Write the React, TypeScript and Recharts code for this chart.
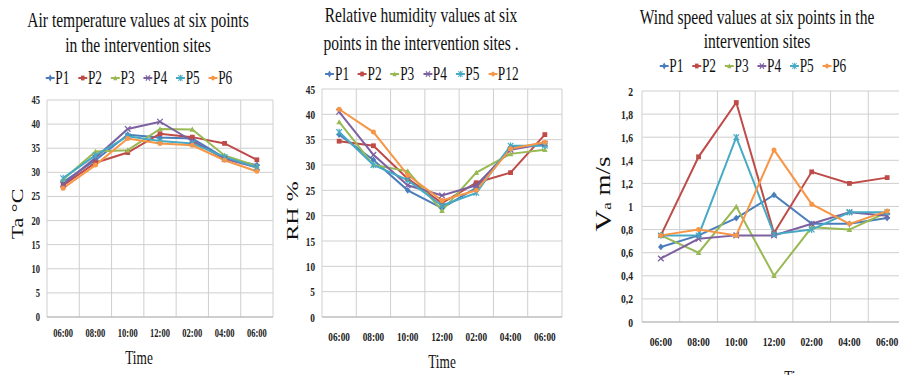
import React from 'react';
import { LineChart, Line, XAxis, YAxis, CartesianGrid, Legend } from 'recharts';

const times = ['06:00', '08:00', '10:00', '12:00', '02:00', '04:00', '06:00'];

// air temperature (°C)
const taP1 = [28, 32.5, 37.8, 37.2, 37, 33, 31.5];
const taP2 = [27.3, 32, 34.1, 38, 37.3, 36, 32.6];
const taP3 = [28.5, 34.3, 34.6, 39, 38.9, 33.5, 31.3];
const taP4 = [27.5, 33, 39, 40.5, 36.5, 32.8, 31];
const taP5 = [28.8, 33.5, 37.5, 36.5, 36, 33.2, 31];
const taP6 = [26.7, 31.5, 37, 36, 35.6, 32.5, 30.2];

// relative humidity (%)
const rhP1 = [36, 31, 25, 21.5, 25.5, 33.5, 34];
const rhP2 = [34.7, 33.8, 27.3, 22.5, 26.5, 28.5, 36];
const rhP3 = [38.5, 30, 28.8, 21, 28.5, 32.2, 33];
const rhP4 = [40.5, 32, 26, 24, 26, 33, 34.2];
const rhP5 = [36.5, 30, 27, 22, 24.5, 33.8, 33.8];
const rhP12 = [41, 36.5, 28, 23, 25, 33.2, 34.5];

// wind speed (m/s)
const wsP1 = [0.65, 0.75, 0.9, 1.1, 0.85, 0.85, 0.9];
const wsP2 = [0.75, 1.43, 1.9, 0.77, 1.3, 1.2, 1.25];
const wsP3 = [0.75, 0.6, 1.0, 0.4, 0.82, 0.8, 0.95];
const wsP4 = [0.55, 0.72, 0.75, 0.75, 0.85, 0.95, 0.92];
const wsP5 = [0.75, 0.75, 1.6, 0.76, 0.8, 0.95, 0.95];
const wsP6 = [0.75, 0.8, 0.75, 1.49, 1.02, 0.85, 0.96];

const namesA = ['P1', 'P2', 'P3', 'P4', 'P5', 'P6'];
const namesB = ['P1', 'P2', 'P3', 'P4', 'P5', 'P12'];

const tenTicks = [0, 5, 10, 15, 20, 25, 30, 35, 40, 45];
const windTicks = [0, 0.2, 0.4, 0.6, 0.8, 1, 1.2, 1.4, 1.6, 1.8, 2];

const colors = ['#4A7EBB', '#BE4B48', '#98B954', '#7D60A0', '#46AAC5', '#F79646'];
const shapes = ['diamond', 'square', 'triangle', 'x', 'star', 'circle'];

const serif = '"Liberation Serif", "Times New Roman", serif';
const SQUEEZE = 0.74;
const GRID = '#cfcfcf';

function makeRows(series: number[][]) {
  return times.map((time, i) => {
    const row: any = { time };
    series.forEach((s, k) => { row['s' + k] = s[i]; });
    return row;
  });
}

function Marker({ shape, x, y, color }: any) {
  const s = 2.8;
  switch (shape) {
    case 'diamond':
      return <polygon points={`${x},${y - s - 0.6} ${x + s},${y} ${x},${y + s + 0.6} ${x - s},${y}`} fill={color} />;
    case 'square':
      return <rect x={x - s + 0.4} y={y - s + 0.4} width={2 * s - 0.8} height={2 * s - 0.8} fill={color} />;
    case 'triangle':
      return <polygon points={`${x},${y - s} ${x + s},${y + s - 0.5} ${x - s},${y + s - 0.5}`} fill={color} />;
    case 'x':
      return (
        <g stroke={color} strokeWidth={1.3}>
          <line x1={x - s} y1={y - s} x2={x + s} y2={y + s} />
          <line x1={x - s} y1={y + s} x2={x + s} y2={y - s} />
        </g>
      );
    case 'star':
      return (
        <g stroke={color} strokeWidth={1.2}>
          <line x1={x - s} y1={y - s} x2={x + s} y2={y + s} />
          <line x1={x - s} y1={y + s} x2={x + s} y2={y - s} />
          <line x1={x} y1={y - s - 0.5} x2={x} y2={y + s + 0.5} />
        </g>
      );
    default:
      return <circle cx={x} cy={y} r={s - 0.3} fill={color} />;
  }
}

// legend drawn in series order (recharts would sort P12 before P2)
const legendFor = (names: string[]) => () => (
  <div style={{
    display: 'flex', justifyContent: 'center', transform: `scaleX(${SQUEEZE})`,
    fontFamily: serif, fontSize: 18, lineHeight: '20px', whiteSpace: 'nowrap', color: '#111',
  }}>
    {names.map((name, i) => (
      <span key={name} style={{ display: 'inline-flex', alignItems: 'center', marginRight: i < names.length - 1 ? 12 : 0 }}>
        <svg width={12} height={10} style={{ overflow: 'visible' }}>
          <line x1={0} y1={5} x2={12} y2={5} stroke={colors[i]} strokeWidth={2} />
          <Marker shape={shapes[i]} x={6} y={5} color={colors[i]} />
        </svg>
        <span style={{ marginLeft: 1 }}>{name}</span>
      </span>
    ))}
  </div>
);

function Panel(p: any) {
  const padX = (p.width - p.yWidth - p.right) / times.length / 2;
  const yTick = ({ x, y, payload }: any) => (
    <text transform={`translate(${x - p.tickGap},${y}) scale(${SQUEEZE},1)`} textAnchor="end" dominantBaseline="central"
      fontFamily={serif} fontWeight="bold" fontSize={p.tickSize} fill="#222">
      {p.yFormat ? p.yFormat(payload.value) : payload.value}
    </text>
  );
  const xTick = ({ x, y, payload }: any) => (
    <text transform={`translate(${x},${y + p.xTickDy}) scale(${SQUEEZE},1)`} textAnchor="middle"
      fontFamily={serif} fontWeight="bold" fontSize={p.tickSize} fill="#222">
      {payload.value}
    </text>
  );
  const timeLabel = (lp: any) => {
    const vb = lp.viewBox || {};
    return (
      <text transform={`translate(${vb.x + vb.width / 2 + p.timeDx},${vb.y + p.timeDy}) scale(${SQUEEZE},1)`}
        textAnchor="middle" fontFamily={serif} fontSize={18} fill="#111">Time</text>
    );
  };
  const yLabel = (lp: any) => {
    const vb = lp.viewBox || {};
    const cy = vb.y + vb.height / 2 + p.yLabelDy;
    return (
      <text transform={`translate(${p.yLabelX},${cy}) rotate(-90) scale(1,${SQUEEZE})`} textAnchor="middle"
        dominantBaseline="central" fontFamily={serif} fontSize={p.yLabelSize} fill="#111">
        {p.yLabel}
      </text>
    );
  };
  const gridX = ({ offset }: any) =>
    times.map((_, i) => offset.left + (i * offset.width) / times.length).concat(offset.left + offset.width);

  return (
    <div style={{ position: 'absolute', left: p.left, top: 0, width: p.width, height: 375 }}>
      <LineChart width={p.width} height={375} data={p.data}
        margin={{ top: p.top, right: p.right, bottom: 0, left: 0 }}>
        <CartesianGrid stroke={GRID} verticalCoordinatesGenerator={gridX} />
        <XAxis dataKey="time" interval={0} tickLine={false} tickSize={0} tickMargin={0} height={p.xHeight}
          padding={{ left: padX, right: padX }} axisLine={{ stroke: '#b5b5b5' }} tick={xTick} label={timeLabel} />
        <YAxis type="number" domain={p.domain} ticks={p.ticks} interval={0} width={p.yWidth} tickLine={false}
          tickSize={0} tickMargin={0} axisLine={false} tick={yTick} label={yLabel} />
        <Legend layout="horizontal" verticalAlign="middle" align="center" content={legendFor(p.names)}
          wrapperStyle={{ left: p.legendX - p.left - 150, top: p.legendY - 10, width: 300 }} />
        {p.names.map((name: string, k: number) => (
          <Line key={name} type="linear" dataKey={'s' + k} name={name} stroke={colors[k]} strokeWidth={2}
            isAnimationActive={false}
            dot={(d: any) => <g key={`${k}-${d.index}`}><Marker shape={shapes[k]} x={d.cx} y={d.cy} color={colors[k]} /></g>} />
        ))}
      </LineChart>
      <div style={{
        position: 'absolute', left: p.titleX - p.left - 200, top: p.titleTop, width: 400, textAlign: 'center',
        fontFamily: serif, fontSize: 21, lineHeight: `${p.titleLh}px`, color: '#111',
        transform: `scaleX(${SQUEEZE})`, whiteSpace: 'nowrap',
      }}>
        {p.title.map((t: string) => <div key={t}>{t}</div>)}
      </div>
    </div>
  );
}

const commaFormat = (v: number) => (Number.isInteger(v) ? String(v) : v.toFixed(1).replace('.', ','));

export default function App() {
  return (
    <div style={{ position: 'absolute', left: 0, top: 0, width: 899, height: 375, overflow: 'hidden', background: '#fff' }}>
      <Panel left={0} width={290} top={100} right={17} yWidth={47} xHeight={58}
        data={makeRows([taP1, taP2, taP3, taP4, taP5, taP6])} names={namesA}
        domain={[0, 45]} ticks={tenTicks} tickSize={11.5} tickGap={7} xTickDy={20}
        timeDx={-21} timeDy={47} yLabel="Ta °C" yLabelX={18} yLabelDy={5.5} yLabelSize={22}
        title={['Air temperature values at six points', 'in the intervention sites']}
        titleX={138} titleTop={8} titleLh={25} legendX={139} legendY={77.5} />
      <Panel left={278} width={300} top={89} right={16} yWidth={44} xHeight={58}
        data={makeRows([rhP1, rhP2, rhP3, rhP4, rhP5, rhP12])} names={namesB}
        domain={[0, 45]} ticks={tenTicks} tickSize={12.5} tickGap={7} xTickDy={24}
        timeDx={0} timeDy={51} yLabel="RH %" yLabelX={14} yLabelDy={8} yLabelSize={24}
        title={['Relative humidity values at six', 'points in the intervention sites .']}
        titleX={421} titleTop={1} titleLh={28} legendX={422} legendY={74} />
      <Panel left={580} width={332} top={91} right={6} yWidth={62} xHeight={53}
        data={makeRows([wsP1, wsP2, wsP3, wsP4, wsP5, wsP6])} names={namesA}
        domain={[0, 2]} ticks={windTicks} tickSize={13} tickGap={9} xTickDy={24} yFormat={commaFormat}
        timeDx={24} timeDy={62}
        yLabel={<><tspan fontSize={30}>V</tspan><tspan fontSize={17} dy={5}>a</tspan><tspan dy={-5}> m/s</tspan></>}
        yLabelX={23} yLabelDy={-12.5} yLabelSize={27}
        title={['Wind speed values at six points in the', 'intervention sites']}
        titleX={757} titleTop={5} titleLh={24} legendX={753} legendY={66} />
    </div>
  );
}
